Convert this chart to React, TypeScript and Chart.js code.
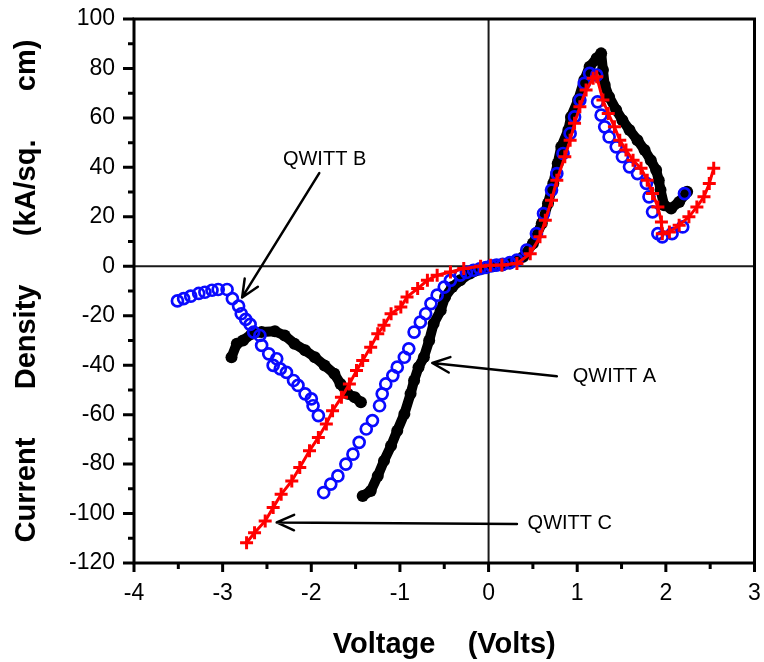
import React, { useEffect, useRef } from "react";
import { Chart, registerables } from "chart.js";

Chart.register(...registerables);

// ---- Data (Voltage in Volts, Current Density in kA/sq. cm) ----
const blackHumpV = [-2.90, -2.84, -2.77, -2.67, -2.56, -2.41, -2.30, -2.19, -2.07, -1.96, -1.85, -1.74, -1.67, -1.59, -1.51, -1.44];
const blackHumpJ = [-36.8, -31.3, -30.0, -27.3, -26.6, -26.3, -28.0, -31.3, -34.0, -36.8, -40.1, -43.5, -47.6, -51.6, -53.0, -55.0];

const blackMainV = [-1.42, -1.33, -1.25, -1.18, -1.10, -1.03, -0.95, -0.88, -0.84, -0.79, -0.73, -0.67, -0.62, -0.54, -0.49, -0.41, -0.32, -0.21, -0.06, 0.05, 0.15, 0.24, 0.39, 0.50, 0.60, 0.67, 0.73, 0.78, 0.82, 0.90, 0.93, 1.01, 1.08, 1.14, 1.22, 1.27, 1.29, 1.31, 1.36, 1.44, 1.51, 1.59, 1.68, 1.76, 1.83, 1.89, 1.92, 1.94, 1.98, 2.06, 2.15, 2.24];
const blackMainJ = [-92.9, -90.9, -84.8, -78.7, -72.6, -66.5, -59.7, -51.6, -46.2, -40.8, -36.8, -30.0, -23.2, -17.8, -12.4, -8.4, -5.7, -2.9, -0.9, 0.0, 0.3, 1.1, 3.8, 9.2, 17.3, 25.4, 33.5, 41.6, 48.3, 55.1, 60.4, 67.2, 75.3, 80.7, 84.1, 86.1, 79.4, 73.3, 68.5, 63.2, 59.1, 55.1, 51.0, 47.0, 42.9, 38.9, 34.8, 30.8, 24.7, 23.4, 26.0, 30.1];

const blueHumpV = [-3.51, -3.44, -3.36, -3.27, -3.20, -3.12, -3.05, -2.95, -2.89, -2.82, -2.79, -2.74, -2.69, -2.65, -2.58, -2.56, -2.48, -2.39, -2.43, -2.35, -2.28, -2.20, -2.15, -2.07, -2.00, -1.98, -1.92];
const blueHumpJ = [-14.0, -13.1, -12.1, -11.0, -10.5, -9.7, -9.4, -9.4, -13.1, -16.1, -19.2, -21.5, -23.5, -26.6, -28.0, -32.0, -35.4, -37.4, -40.1, -41.5, -42.9, -46.2, -48.2, -51.6, -53.6, -56.4, -60.4];

const blueMainV = [-1.86, -1.78, -1.70, -1.61, -1.53, -1.46, -1.38, -1.31, -1.23, -1.20, -1.16, -1.08, -1.03, -0.95, -0.90, -0.84, -0.77, -0.71, -0.65, -0.58, -0.50, -0.43, -0.32, -0.25, -0.17, -0.10, -0.03, 0.03, 0.09, 0.16, 0.24, 0.32, 0.43, 0.54, 0.62, 0.71, 0.77, 0.84, 0.92, 0.97, 1.03, 1.08, 1.14, 1.22, 1.23, 1.27, 1.31, 1.36, 1.44, 1.51, 1.59, 1.68, 1.78, 1.81, 1.85, 1.91, 1.96, 2.07, 2.19, 2.21];
const blueMainJ = [-91.5, -88.1, -84.8, -80.0, -76.0, -71.2, -65.8, -62.4, -56.4, -51.6, -47.6, -44.2, -40.8, -36.8, -33.4, -26.6, -22.6, -19.2, -15.1, -11.7, -8.4, -5.7, -3.6, -2.5, -1.6, -1.0, -0.5, 0.2, 0.5, 0.8, 1.5, 2.5, 6.5, 13.2, 21.3, 30.8, 37.5, 45.6, 53.7, 60.4, 67.2, 74.0, 78.0, 77.3, 66.5, 61.1, 56.4, 52.3, 48.3, 44.3, 40.2, 37.5, 33.5, 28.1, 22.0, 13.2, 11.9, 13.2, 15.9, 29.4];

const redV = [-2.73, -2.64, -2.52, -2.43, -2.34, -2.22, -2.13, -2.02, -1.92, -1.83, -1.76, -1.66, -1.57, -1.49, -1.42, -1.33, -1.25, -1.18, -1.10, -0.99, -0.92, -0.80, -0.69, -0.58, -0.43, -0.28, -0.09, 0.02, 0.15, 0.32, 0.47, 0.58, 0.64, 0.71, 0.77, 0.86, 0.92, 0.97, 1.03, 1.10, 1.18, 1.22, 1.29, 1.35, 1.42, 1.48, 1.55, 1.63, 1.72, 1.79, 1.85, 1.91, 1.95, 1.96, 2.04, 2.15, 2.26, 2.35, 2.43, 2.49, 2.54];
const redJ = [-111.8, -107.8, -103.0, -97.6, -92.2, -86.8, -81.4, -74.6, -69.2, -63.8, -58.4, -53.0, -47.6, -42.2, -38.1, -32.7, -27.3, -23.9, -19.2, -16.5, -12.4, -9.0, -5.7, -3.6, -2.3, -0.9, 0.0, 0.4, 0.5, 1.1, 5.1, 11.9, 18.6, 26.7, 34.8, 44.3, 51.0, 57.8, 64.5, 71.3, 76.0, 76.6, 67.2, 61.8, 56.4, 51.0, 47.0, 42.9, 39.6, 34.8, 29.4, 24.0, 17.9, 13.2, 13.9, 16.6, 20.0, 24.0, 28.1, 33.5, 39.6];

// Axis ranges / ticks
const xMin = -4, xMax = 3, xStep = 1, xMinorStep = 0.5;
const yMin = -120, yMax = 100, yStep = 20, yMinorStep = 10;

// Annotations: label text, label anchor (data units), arrow tail and head (data units)
const annotationLabels = ["QWITT B", "QWITT A", "QWITT C"];
const annotationTextPos = [[-1.85, 43.0], [0.95, -44.6], [0.44, -104.0]];
const annotationTextAlign = ["center", "left", "left"];
const annotationTail = [[-1.91, 37.7], [0.77, -44.5], [0.32, -104.2]];
const annotationHead = [[-2.78, -12.6], [-0.635, -39.1], [-2.39, -103.6]];

const FONT = "'Liberation Sans', Arial, Helvetica, sans-serif";

const toPts = (xs: number[], ys: number[]) => xs.map((x, i) => ({ x, y: ys[i] }));

const framePlugin = {
  id: "frameAndRefs",
  beforeDatasetsDraw(chart: any) {
    const { ctx, chartArea: a, scales } = chart;
    const x0 = scales.x.getPixelForValue(0);
    const y0 = scales.y.getPixelForValue(0);
    ctx.save();
    ctx.strokeStyle = "#1a1a1a";
    ctx.lineWidth = 2;
    ctx.beginPath();
    ctx.moveTo(a.left, y0);
    ctx.lineTo(a.right, y0);
    ctx.moveTo(x0, a.top);
    ctx.lineTo(x0, a.bottom);
    ctx.stroke();
    ctx.restore();
  },
  afterDatasetsDraw(chart: any) {
    const { ctx, scales } = chart;
    const sx = scales.x, sy = scales.y;
    ctx.save();
    ctx.strokeStyle = "#000";
    ctx.fillStyle = "#000";
    ctx.lineWidth = 2.5;
    ctx.lineCap = "round";
    ctx.lineJoin = "round";
    for (let i = 0; i < annotationLabels.length; i++) {
      const tx = sx.getPixelForValue(annotationTail[i][0]);
      const ty = sy.getPixelForValue(annotationTail[i][1]);
      const hx = sx.getPixelForValue(annotationHead[i][0]);
      const hy = sy.getPixelForValue(annotationHead[i][1]);
      ctx.beginPath();
      ctx.moveTo(tx, ty);
      ctx.lineTo(hx, hy);
      const ang = Math.atan2(ty - hy, tx - hx);
      const L = 19, spread = 0.42;
      ctx.moveTo(hx + L * Math.cos(ang + spread), hy + L * Math.sin(ang + spread));
      ctx.lineTo(hx, hy);
      ctx.lineTo(hx + L * Math.cos(ang - spread), hy + L * Math.sin(ang - spread));
      ctx.stroke();
      ctx.font = `20px ${FONT}`;
      ctx.textAlign = annotationTextAlign[i] as CanvasTextAlign;
      ctx.textBaseline = "middle";
      ctx.fillText(annotationLabels[i], sx.getPixelForValue(annotationTextPos[i][0]), sy.getPixelForValue(annotationTextPos[i][1]));
    }
    ctx.restore();
  },
  afterDraw(chart: any) {
    const { ctx, chartArea: a, scales } = chart;
    const sx = scales.x, sy = scales.y;
    ctx.save();
    ctx.strokeStyle = "#000";
    ctx.lineWidth = 3;
    ctx.lineCap = "butt";
    ctx.strokeRect(a.left, a.top, a.right - a.left, a.bottom - a.top);
    ctx.beginPath();
    for (let v = yMin; v <= yMax + 1e-9; v += yMinorStep) {
      const p = sy.getPixelForValue(v);
      const major = Math.abs(v % yStep) < 1e-9;
      ctx.moveTo(a.left - (major ? 11 : 6), p);
      ctx.lineTo(a.left, p);
    }
    for (let v = xMin; v <= xMax + 1e-9; v += xMinorStep) {
      const p = sx.getPixelForValue(v);
      const major = Math.abs(v % xStep) < 1e-9;
      ctx.moveTo(p, a.bottom);
      ctx.lineTo(p, a.bottom + (major ? 9 : 6));
    }
    ctx.stroke();
    ctx.restore();
  },
};

export default function App() {
  const ref = useRef<HTMLCanvasElement | null>(null);
  useEffect(() => {
    if (!ref.current) return;
    const red = "#ff0000", blue = "#0a0aff", black = "#000000";
    const chart = new Chart(ref.current, {
      type: "scatter",
      data: {
        datasets: [
          {
            label: "QWITT C",
            data: toPts(redV, redJ),
            order: 0,
            showLine: true,
            borderColor: red,
            borderWidth: 3,
            pointStyle: "cross",
            pointRadius: 6.5,
            pointBorderWidth: 3,
            pointBorderColor: red,
            pointBackgroundColor: red,
          },
          {
            label: "QWITT B",
            data: toPts(blueHumpV, blueHumpJ),
            order: 1,
            showLine: false,
            pointStyle: "circle",
            pointRadius: 5.5,
            pointBorderWidth: 2.7,
            pointBorderColor: blue,
            pointBackgroundColor: "rgba(0,0,0,0)",
          },
          {
            label: "QWITT B main",
            data: toPts(blueMainV, blueMainJ),
            order: 1,
            showLine: false,
            pointStyle: "circle",
            pointRadius: 5.5,
            pointBorderWidth: 2.7,
            pointBorderColor: blue,
            pointBackgroundColor: "rgba(0,0,0,0)",
          },
          {
            label: "QWITT A hump",
            data: toPts(blackHumpV, blackHumpJ),
            order: 2,
            showLine: true,
            borderColor: black,
            borderWidth: 10,
            borderCapStyle: "round",
            borderJoinStyle: "round",
            pointRadius: 6,
            pointBorderWidth: 0,
            pointBackgroundColor: black,
          },
          {
            label: "QWITT A",
            data: toPts(blackMainV, blackMainJ),
            order: 2,
            showLine: true,
            borderColor: black,
            borderWidth: 10,
            borderCapStyle: "round",
            borderJoinStyle: "round",
            pointRadius: 6,
            pointBorderWidth: 0,
            pointBackgroundColor: black,
          },
        ] as any,
      },
      options: {
        animation: false,
        responsive: false,
        devicePixelRatio: 1,
        layout: { padding: { top: 19, right: 6, left: 0, bottom: 0 } },
        plugins: { legend: { display: false }, tooltip: { enabled: false } },
        scales: {
          x: {
            type: "linear",
            min: xMin,
            max: xMax,
            afterFit: (s: any) => { s.height = 99; s.paddingLeft = 0; s.paddingRight = 0; },
            grid: { display: false, drawTicks: false },
            border: { display: false },
            ticks: { stepSize: xStep, padding: 17, color: "#000", font: { family: FONT, size: 23 } },
            title: {
              display: true,
              text: "Voltage    (Volts)",
              color: "#000",
              padding: { top: 0, bottom: 0 },
              font: { family: FONT, size: 29, weight: "bold" },
            },
          },
          y: {
            type: "linear",
            min: yMin,
            max: yMax,
            afterFit: (s: any) => { s.width = 134; s.paddingTop = 0; s.paddingBottom = 0; },
            grid: { display: false, drawTicks: false },
            border: { display: false },
            ticks: { stepSize: yStep, padding: 19, color: "#000", font: { family: FONT, size: 23 } },
            title: {
              display: true,
              text: "Current      Density      (kA/sq.      cm)",
              color: "#000",
              padding: { top: 10, bottom: 0 },
              font: { family: FONT, size: 29, weight: "bold" },
            },
          },
        },
      } as any,
      plugins: [framePlugin],
    });
    return () => chart.destroy();
  }, []);
  return (
    <div style={{ position: "fixed", left: 0, top: 0, width: 764, height: 662, background: "#fff" }}>
      <canvas ref={ref} width={764} height={662} style={{ width: 764, height: 662 }} />
    </div>
  );
}
